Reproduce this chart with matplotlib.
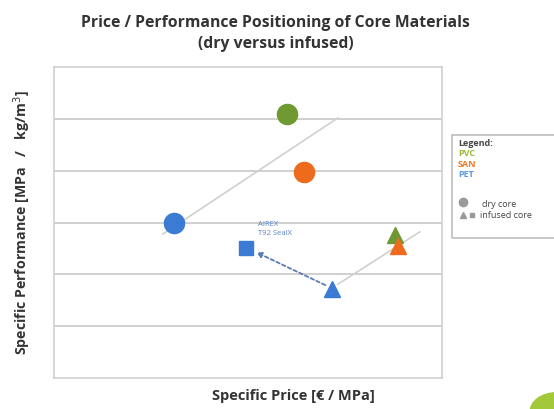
import matplotlib.pyplot as plt
from matplotlib.patches import Rectangle, Circle

plt.rcParams['font.family'] = ['Open Sans', 'DejaVu Sans']

green = '#6f9a33'
orange = '#ee6a1c'
blue = '#3b7bd4'

# dry core (circles)
dry_x = [6.0, 6.44, 3.09]
dry_y = [5.1, 3.98, 2.99]
dry_col = [green, orange, blue]

# infused core (triangles)
inf_x = [8.79, 8.87, 7.16]
inf_y = [2.76, 2.55, 1.72]
inf_col = [green, orange, blue]

# AIREX T92 SealX
sq_x, sq_y = 4.95, 2.5

# trend lines
trend_dry_x = [2.81, 7.32]
trend_dry_y = [2.78, 5.02]
trend_inf_x = [7.32, 9.43]
trend_inf_y = [1.81, 2.82]

fig = plt.figure(figsize=(5.54, 4.09), dpi=100)
ax = fig.add_axes([0.0975, 0.0758, 0.70, 0.76])
ax.set_xlim(0, 10)
ax.set_ylim(0, 6)
ax.set_xticks([])
ax.set_yticks([1, 2, 3, 4, 5])
ax.tick_params(left=False, labelleft=False)
ax.grid(axis='y', color='#c8c8c8', lw=1.2)
ax.set_axisbelow(True)
for s in ax.spines.values():
    s.set_color('#d0d0d0')
    s.set_linewidth(1.2)

ax.plot(trend_dry_x, trend_dry_y, color='#d0d0d0', lw=1.2, zorder=1)
ax.plot(trend_inf_x, trend_inf_y, color='#d0d0d0', lw=1.2, zorder=1)

ax.annotate('', xy=(sq_x + 0.2, sq_y - 0.05), xytext=(inf_x[2] - 0.1, inf_y[2] + 0.05),
            arrowprops=dict(arrowstyle='-|>', linestyle=(0, (2, 1.5)), color='#5a7ab8',
                        lw=1.3, mutation_scale=8))

for x, y, c in zip(dry_x, dry_y, dry_col):
    ax.plot(x, y, 'o', color=c, markersize=14.5, zorder=3)
for x, y, c in zip(inf_x, inf_y, inf_col):
    ax.plot(x, y, '^', color=c, markersize=12, zorder=3)
ax.plot(sq_x, sq_y, 's', color=blue, markersize=9.5, zorder=3)
ax.text(sq_x + 0.3, sq_y + 0.22, 'AIREX\nT92 SealX', color='#5a82c8', fontsize=5.5,
        va='bottom', ha='left', linespacing=1.4)

fig.text(0.497, 0.944, 'Price / Performance Positioning of Core Materials',
         ha='center', va='center', fontsize=11.3, fontweight='bold', color='#333333')
fig.text(0.497, 0.893, '(dry versus infused)',
         ha='center', va='center', fontsize=11.3, fontweight='bold', color='#333333')
fig.text(0.040, 0.455, 'Specific Performance [MPa   /   kg/m$^3$]', rotation=90,
         ha='center', va='center', fontsize=10.2, fontweight='bold', color='#333333')
fig.text(0.53, 0.032, 'Specific Price [€ / MPa]', ha='center', va='center',
         fontsize=10.5, fontweight='bold', color='#333333')

# legend box
fig.patches.append(Rectangle((452 / 554, 1 - 238 / 409), 110 / 554, 103 / 409,
                             transform=fig.transFigure, fill=False,
                             edgecolor='#bdbdbd', lw=1.2))
fig.text(458 / 554, 1 - 143 / 409, 'Legend:', fontsize=6.5, fontweight='bold',
         color='#444444', va='center')
fig.text(458 / 554, 1 - 153.5 / 409, 'PVC', fontsize=6.5, fontweight='bold',
         color='#9bbb3a', va='center')
fig.text(458 / 554, 1 - 164 / 409, 'SAN', fontsize=6.5, fontweight='bold',
         color='#f07828', va='center')
fig.text(458 / 554, 1 - 174.5 / 409, 'PET', fontsize=6.5, fontweight='bold',
         color='#5b9be0', va='center')
fig.lines.append(plt.Line2D([463 / 554], [1 - 202 / 409], marker='o', color='#9a9a9a',
                            markersize=6, transform=fig.transFigure))
fig.text(482 / 554, 1 - 204 / 409, 'dry core', fontsize=6.5, color='#444444', va='center')
fig.lines.append(plt.Line2D([463 / 554], [1 - 215 / 409], marker='^', color='#9a9a9a',
                            markersize=5, transform=fig.transFigure))
fig.lines.append(plt.Line2D([472 / 554], [1 - 215 / 409], marker='s', color='#9a9a9a',
                            markersize=3.5, transform=fig.transFigure))
fig.text(480 / 554, 1 - 215 / 409, 'infused core', fontsize=6.5, color='#444444', va='center')

# corner decoration
fig.patches.append(Circle((556 / 554, 1 - 412 / 409), 26 / 554, transform=fig.transFigure,
                          color='#a3c93a', clip_on=False))

fig.savefig('out.png', dpi=100)
